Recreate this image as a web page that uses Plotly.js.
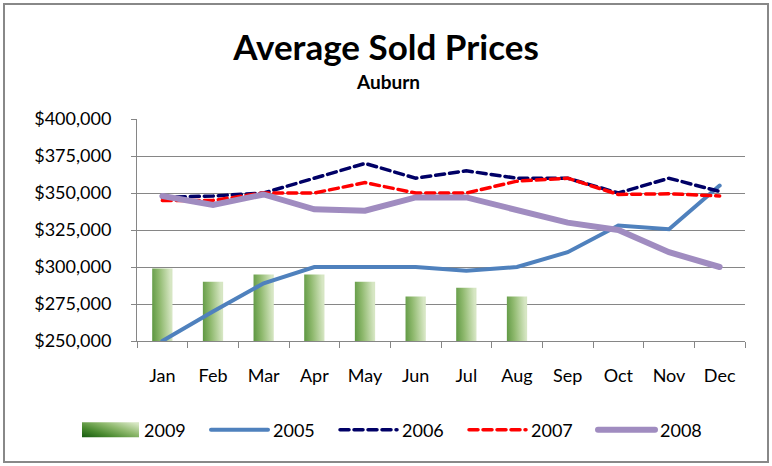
<!DOCTYPE html>
<html>
<head>
<meta charset="utf-8">
<script src="https://cdn.plot.ly/plotly-3.0.1.min.js"></script>
<style>
  html, body { margin: 0; padding: 0; background: #fff; }
  #wrap { position: relative; width: 772px; height: 466px; }
  #chart { position: absolute; left: 0; top: 0; width: 772px; height: 466px; }
  #frame { position: absolute; left: 3px; top: 3px; width: 762px; height: 456px;
           border: 2px solid #888; pointer-events: none; }
</style>
</head>
<body>
<div id="wrap">
  <div id="chart"></div>
  <div id="frame"></div>
</div>
<script>
// Monthly average sold prices, Auburn
const months = ['Jan', 'Feb', 'Mar', 'Apr', 'May', 'Jun', 'Jul', 'Aug', 'Sep', 'Oct', 'Nov', 'Dec'];
const months2009 = ['Jan', 'Feb', 'Mar', 'Apr', 'May', 'Jun', 'Jul', 'Aug'];
const prices2009 = [299000, 290000, 295000, 295000, 290000, 280000, 286000, 280000];
const prices2005 = [250000, 270000, 289000, 300000, 300000, 300000, 297500, 300000, 310000, 328000, 325500, 355000];
const prices2006 = [347000, 348000, 350000, 360000, 370000, 360000, 365000, 360000, 360000, 350000, 360000, 351000];
const prices2007 = [345000, 345000, 350000, 350000, 357000, 350000, 350000, 358000, 360000, 349000, 349500, 348000];
const prices2008 = [348000, 342000, 349000, 339000, 338000, 347000, 347000, 339000, 330000, 325000, 310000, 300000];
const yTicks = [250000, 275000, 300000, 325000, 350000, 375000, 400000];
const yTickLabels = ['$250,000', '$275,000', '$300,000', '$325,000', '$350,000', '$375,000', '$400,000'];

const FONT = 'Lato, "Open Sans", sans-serif';
const GRID = '#868686';

const traces = [
  { type: 'bar', name: '2009', x: months2009, y: prices2009,
    marker: { color: '#5f9a45', line: { width: 0 } }, hoverinfo: 'skip' },
  { type: 'scatter', mode: 'lines', name: '2005', x: months, y: prices2005,
    line: { color: '#4f81bd', width: 4 } },
  { type: 'scatter', mode: 'lines', name: '2006', x: months, y: prices2006,
    line: { color: '#000066', width: 3.5, dash: '9px,5px' } },
  { type: 'scatter', mode: 'lines', name: '2007', x: months, y: prices2007,
    line: { color: '#ff0000', width: 3.5, dash: '9px,5px' } },
  { type: 'scatter', mode: 'lines', name: '2008', x: months, y: prices2008,
    line: { color: '#a08cc0', width: 6 } }
];

const layout = {
  width: 772, height: 466,
  margin: { l: 137, r: 27, t: 119, b: 125 },
  paper_bgcolor: '#fff', plot_bgcolor: '#fff',
  font: { family: FONT, color: '#000' },
  title: {
    text: '<b>Average Sold Prices</b>',
    font: { family: FONT, size: 35, color: '#000' },
    xref: 'container', x: 0.5, xanchor: 'center',
    yref: 'container', y: 1 - 35 / 466, yanchor: 'top'
  },
  annotations: [{
    text: '<b>Auburn</b>', showarrow: false,
    xref: 'paper', yref: 'paper',
    x: (387.5 - 137) / 608, y: (341 - 81) / 222,
    xanchor: 'center', yanchor: 'middle',
    font: { family: FONT, size: 19, color: '#000' }
  }],
  bargap: 0.6,
  showlegend: true,
  legend: {
    orientation: 'h', xref: 'paper', yref: 'paper',
    x: (77 - 137) / 608, xanchor: 'left', y: (341 - 430) / 222, yanchor: 'middle',
    font: { family: FONT, size: 18, color: '#000' },
    itemwidth: 57, entrywidth: 57, entrywidthmode: 'pixels',
    traceorder: 'normal', bgcolor: 'rgba(0,0,0,0)'
  },
  xaxis: {
    type: 'category', categoryarray: months, categoryorder: 'array',
    range: [-0.5, 11.5],
    tickson: 'boundaries', ticks: 'outside', ticklen: 6, tickcolor: GRID, tickwidth: 1,
    showline: true, linecolor: GRID, linewidth: 1, showgrid: false, zeroline: false,
    tickfont: { family: FONT, size: 18, color: '#000' }, ticklabelstandoff: 18,
    fixedrange: true
  },
  yaxis: {
    range: [250000, 400000], tickvals: yTicks, ticktext: yTickLabels,
    ticks: 'outside', ticklen: 5, tickcolor: GRID, tickwidth: 1,
    showline: true, linecolor: GRID, linewidth: 1,
    showgrid: true, gridcolor: GRID, gridwidth: 1, zeroline: false,
    tickfont: { family: FONT, size: 18, color: '#000' }, ticklabelstandoff: 16,
    fixedrange: true
  }
};

const gd = document.getElementById('chart');
Plotly.newPlot(gd, traces, layout, { staticPlot: true, displayModeBar: false }).then(() => {
  // Diagonal green shading for the 2009 columns
  const svg = gd.querySelector('svg.main-svg');
  const NS = 'http://www.w3.org/2000/svg';
  let defs = svg.querySelector('defs');
  if (!defs) { defs = document.createElementNS(NS, 'defs'); svg.insertBefore(defs, svg.firstChild); }
  const grad = document.createElementNS(NS, 'linearGradient');
  grad.setAttribute('id', 'greenShade');
  grad.setAttribute('x1', '0'); grad.setAttribute('y1', '0.95');
  grad.setAttribute('x2', '1'); grad.setAttribute('y2', '0.15');
  [['0', '#1a5e12'], ['0.3', '#4a8a30'], ['0.65', '#8fb96e'], ['1', '#d6e6c3']].forEach(([o, c]) => {
    const s = document.createElementNS(NS, 'stop');
    s.setAttribute('offset', o); s.setAttribute('stop-color', c);
    grad.appendChild(s);
  });
  defs.appendChild(grad);
  gd.querySelectorAll('.barlayer .point path').forEach(p => { p.style.fill = 'url(#greenShade)'; });

  // Legend: shaded swatch as wide as the line symbols
  const items = gd.querySelectorAll('.legend .traces');
  if (items.length > 1) {
    const sw = items[0].querySelector('.legendpoints path');
    const ln = items[1].querySelector('.js-line');
    if (sw && ln) {
      const box = ln.getBBox();
      const lineOff = ln.getCTM().e - items[1].getCTM().e;
      const swOff = sw.getCTM().e - items[0].getCTM().e;
      const x0 = lineOff + box.x - swOff;
      const x1 = x0 + box.width;
      sw.setAttribute('d', `M${x0},7.5H${x1}V-7.5H${x0}Z`);
      sw.style.fill = 'url(#greenShade)';
      sw.style.stroke = 'none';
    }
  }
  gd.querySelectorAll('.scatterlayer .js-line, .legend .js-line').forEach(p => {
    p.style.strokeLinecap = 'round';
  });
});
</script>
</body>
</html>
